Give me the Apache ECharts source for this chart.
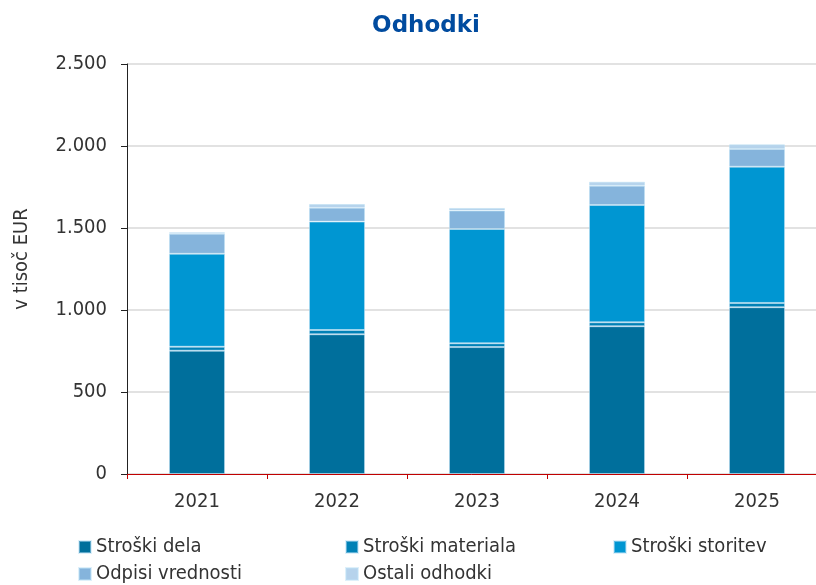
<!DOCTYPE html>
<html>
<head>
<meta charset="utf-8">
<script src="https://cdn.jsdelivr.net/npm/echarts@6/dist/echarts.min.js"></script>
<style>
  html, body { margin: 0; padding: 0; background: #fff; }
  #chart { width: 816px; height: 585px; }
</style>
</head>
<body>
<div id="chart"></div>
<script>
// podatki (v tisoč EUR)
const years = ['2021', '2022', '2023', '2024', '2025']
const strDela = [752, 852, 774, 901, 1017]
const strMateriala = [24, 26, 23, 24, 26]
const strStoritev = [567, 661, 697, 715, 831]
const odpisi = [122, 85, 112, 118, 108]
const ostali = [9, 22, 16, 24, 28]

const seriesNames = ['Stroški dela', 'Stroški materiala', 'Stroški storitev', 'Odpisi vrednosti', 'Ostali odhodki']
const seriesData = [strDela, strMateriala, strStoritev, odpisi, ostali]
const colors = ['#006f9c', '#0081b6', '#0096d2', '#85b4dc', '#b6d3ec']

const font = '"DejaVu Sans Condensed", "DejaVu Sans"'

const chart = echarts.init(document.getElementById('chart'), null, {renderer: 'canvas'})

// legenda: vsak element posebej, da so stolpci poravnani
const legendPos = [[73, 532], [340, 532], [608, 532], [73, 559], [340, 559]]
const legends = seriesNames.map((name, i) => ({
  data: [name],
  left: legendPos[i][0],
  top: legendPos[i][1],
  icon: 'rect',
  itemWidth: 12,
  itemHeight: 12,
  itemGap: 0,
  selectedMode: false,
  textStyle: {fontFamily: font, fontSize: 20, color: '#333'}
}))

const option = {
  animation: false,
  color: colors,
  title: {
    text: 'Odhodki',
    left: 421,
    top: 10,
    textAlign: 'center',
    textStyle: {fontFamily: 'DejaVu Sans', fontSize: 23, fontWeight: 'bold', color: '#004b9f'}
  },
  legend: legends,
  grid: {left: 127, top: 64, width: 700, height: 410, outerBoundsMode: 'none'},
  xAxis: {
    type: 'category',
    data: years,
    axisLine: {lineStyle: {color: '#c00000', width: 1}},
    axisTick: {show: true, length: 5, lineStyle: {color: '#c00000'}},
    axisLabel: {fontFamily: font, fontSize: 20, color: '#333', margin: 18}
  },
  yAxis: {
    type: 'value',
    min: 0,
    max: 2500,
    interval: 500,
    name: 'v tisoč EUR',
    nameLocation: 'middle',
    nameGap: 95,
    nameTextStyle: {fontFamily: font, fontSize: 20, color: '#333', padding: [0, 0, 0, 20]},
    axisLine: {show: true, lineStyle: {color: '#222', width: 1}},
    axisTick: {show: true, length: 6, lineStyle: {color: '#222'}},
    splitLine: {lineStyle: {color: '#d9d9d9', width: 1.5}},
    axisLabel: {
      fontFamily: font, fontSize: 20, color: '#333', margin: 20,
      formatter: v => v >= 1000 ? Math.floor(v / 1000) + '.' + String(v % 1000).padStart(3, '0') : String(v)
    }
  },
  series: seriesNames.map((name, i) => ({
    name,
    type: 'bar',
    stack: 'skupaj',
    barWidth: '40%',
    data: seriesData[i],
    itemStyle: {borderColor: 'rgba(190,225,245,0.5)', borderWidth: 1}
  }))
}

chart.setOption(option)
</script>
</body>
</html>
